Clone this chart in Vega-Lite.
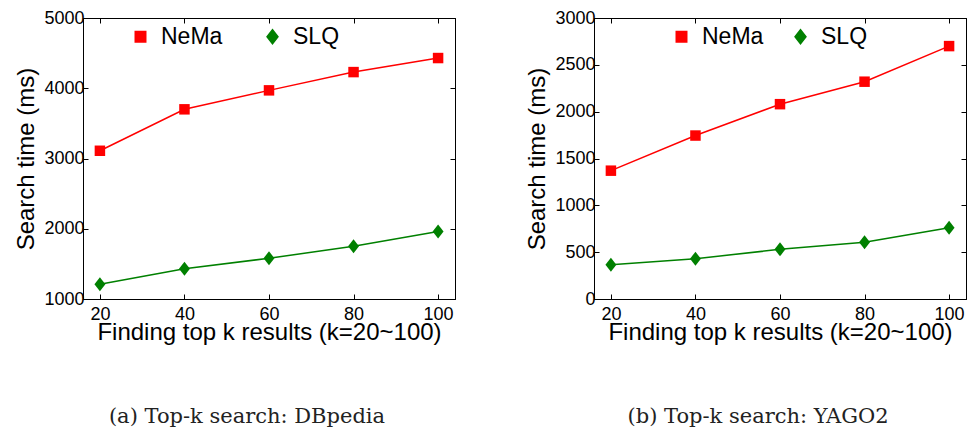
{
  "$schema": "https://vega.github.io/schema/vega-lite/v6.json",
  "background": "white",
  "padding": {"left": 14, "top": 8, "right": 0, "bottom": 0},
  "data": {"values": [
    {"dataset": "DBpedia", "method": "NeMa", "k": 20, "time": 3110},
    {"dataset": "DBpedia", "method": "NeMa", "k": 40, "time": 3700},
    {"dataset": "DBpedia", "method": "NeMa", "k": 60, "time": 3970},
    {"dataset": "DBpedia", "method": "NeMa", "k": 80, "time": 4230},
    {"dataset": "DBpedia", "method": "NeMa", "k": 100, "time": 4430},
    {"dataset": "DBpedia", "method": "SLQ", "k": 20, "time": 1210},
    {"dataset": "DBpedia", "method": "SLQ", "k": 40, "time": 1430},
    {"dataset": "DBpedia", "method": "SLQ", "k": 60, "time": 1580},
    {"dataset": "DBpedia", "method": "SLQ", "k": 80, "time": 1750},
    {"dataset": "DBpedia", "method": "SLQ", "k": 100, "time": 1960},
    {"dataset": "YAGO2", "method": "NeMa", "k": 20, "time": 1370},
    {"dataset": "YAGO2", "method": "NeMa", "k": 40, "time": 1745},
    {"dataset": "YAGO2", "method": "NeMa", "k": 60, "time": 2080},
    {"dataset": "YAGO2", "method": "NeMa", "k": 80, "time": 2320},
    {"dataset": "YAGO2", "method": "NeMa", "k": 100, "time": 2700},
    {"dataset": "YAGO2", "method": "SLQ", "k": 20, "time": 365},
    {"dataset": "YAGO2", "method": "SLQ", "k": 40, "time": 430},
    {"dataset": "YAGO2", "method": "SLQ", "k": 60, "time": 530},
    {"dataset": "YAGO2", "method": "SLQ", "k": 80, "time": 605},
    {"dataset": "YAGO2", "method": "SLQ", "k": 100, "time": 760}
  ]},
  "config": {
    "font": "Liberation Sans",
    "view": {"stroke": "black", "strokeWidth": 1},
    "axis": {
      "grid": false,
      "domainColor": "black",
      "tickColor": "black",
      "labelColor": "black",
      "titleColor": "black",
      "tickSize": -5,
      "labelFontSize": 18,
      "titleFontSize": 24,
      "titleFontWeight": "normal",
      "labelFont": "Liberation Sans",
      "titleFont": "Liberation Sans",
      "format": "d"
    },
    "legend": {
      "orient": "none",
      "direction": "horizontal",
      "title": null,
      "padding": 0,
      "labelFontSize": 23,
      "labelFont": "Liberation Sans",
      "labelColor": "black"
    }
  },
  "spacing": 69,
  "hconcat": [
    {
      "width": 372,
      "height": 281,
      "transform": [{"filter": "datum.dataset === 'DBpedia'"}],
      "title": {"text": "(a) Top-k search: DBpedia", "orient": "bottom", "font": "DejaVu Serif", "fontSize": 21, "fontWeight": "normal", "color": "#222", "offset": 62, "dx": -22, "anchor": "middle"},
      "layer": [
        {
          "mark": {"type": "line", "strokeWidth": 1.5},
          "encoding": {
            "x": {"field": "k", "type": "quantitative", "scale": {"domain": [16, 104], "nice": false, "zero": false}, "axis": {"values": [20, 40, 60, 80, 100], "title": "Finding top k results (k=20~100)", "labelPadding": 11, "titlePadding": -3}},
            "y": {"field": "time", "type": "quantitative", "scale": {"domain": [1000, 5000], "nice": false, "zero": false}, "axis": {"values": [1000, 2000, 3000, 4000, 5000], "title": "Search time (ms)", "labelPadding": 4, "titlePadding": 5}},
            "color": {"field": "method", "type": "nominal", "scale": {"domain": ["NeMa", "SLQ"], "range": ["#ff0000", "#008000"]},
              "legend": {"legendX": 46, "legendY": 7, "columnPadding": 38, "labelOffset": 9}}
          }
        },
        {
          "mark": {"type": "point", "filled": true, "opacity": 1},
          "encoding": {
            "x": {"field": "k", "type": "quantitative", "scale": {"domain": [16, 104], "nice": false, "zero": false}, "axis": {"orient": "top", "values": [20, 40, 60, 80, 100], "labels": false, "title": null}},
            "y": {"field": "time", "type": "quantitative", "scale": {"domain": [1000, 5000], "nice": false, "zero": false}, "axis": {"orient": "right", "values": [1000, 2000, 3000, 4000, 5000], "labels": false, "title": null}},
            "color": {"field": "method", "type": "nominal", "scale": {"domain": ["NeMa", "SLQ"], "range": ["#ff0000", "#008000"]}},
            "shape": {"field": "method", "type": "nominal", "scale": {"domain": ["NeMa", "SLQ"], "range": ["square", "M0,-1L0.78,0L0,1L-0.78,0Z"]}, "legend": null},
            "size": {"field": "method", "type": "nominal", "scale": {"domain": ["NeMa", "SLQ"], "range": [110, 196]}, "legend": null}
          }
        }
      ],
      "resolve": {"axis": {"x": "independent", "y": "independent"}}
    },
    {
      "width": 372,
      "height": 281,
      "transform": [{"filter": "datum.dataset === 'YAGO2'"}],
      "title": {"text": "(b) Top-k search: YAGO2", "orient": "bottom", "font": "DejaVu Serif", "fontSize": 21, "fontWeight": "normal", "color": "#222", "offset": 62, "dx": -22, "anchor": "middle"},
      "layer": [
        {
          "mark": {"type": "line", "strokeWidth": 1.5},
          "encoding": {
            "x": {"field": "k", "type": "quantitative", "scale": {"domain": [16, 104], "nice": false, "zero": false}, "axis": {"values": [20, 40, 60, 80, 100], "title": "Finding top k results (k=20~100)", "labelPadding": 11, "titlePadding": -3}},
            "y": {"field": "time", "type": "quantitative", "scale": {"domain": [0, 3000], "nice": false, "zero": false}, "axis": {"values": [0, 500, 1000, 1500, 2000, 2500, 3000], "title": "Search time (ms)", "labelPadding": 4, "titlePadding": 5}},
            "color": {"field": "method", "type": "nominal", "scale": {"domain": ["NeMa", "SLQ"], "range": ["#ff0000", "#008000"]},
              "legend": {"legendX": 76, "legendY": 7, "columnPadding": 25, "labelOffset": 9}}
          }
        },
        {
          "mark": {"type": "point", "filled": true, "opacity": 1},
          "encoding": {
            "x": {"field": "k", "type": "quantitative", "scale": {"domain": [16, 104], "nice": false, "zero": false}, "axis": {"orient": "top", "values": [20, 40, 60, 80, 100], "labels": false, "title": null}},
            "y": {"field": "time", "type": "quantitative", "scale": {"domain": [0, 3000], "nice": false, "zero": false}, "axis": {"orient": "right", "values": [0, 500, 1000, 1500, 2000, 2500, 3000], "labels": false, "title": null}},
            "color": {"field": "method", "type": "nominal", "scale": {"domain": ["NeMa", "SLQ"], "range": ["#ff0000", "#008000"]}},
            "shape": {"field": "method", "type": "nominal", "scale": {"domain": ["NeMa", "SLQ"], "range": ["square", "M0,-1L0.78,0L0,1L-0.78,0Z"]}, "legend": null},
            "size": {"field": "method", "type": "nominal", "scale": {"domain": ["NeMa", "SLQ"], "range": [110, 196]}, "legend": null}
          }
        }
      ],
      "resolve": {"axis": {"x": "independent", "y": "independent"}}
    }
  ],
  "resolve": {"scale": {"color": "independent", "shape": "independent", "size": "independent"}, "legend": {"color": "independent", "shape": "independent", "size": "independent"}}
}
